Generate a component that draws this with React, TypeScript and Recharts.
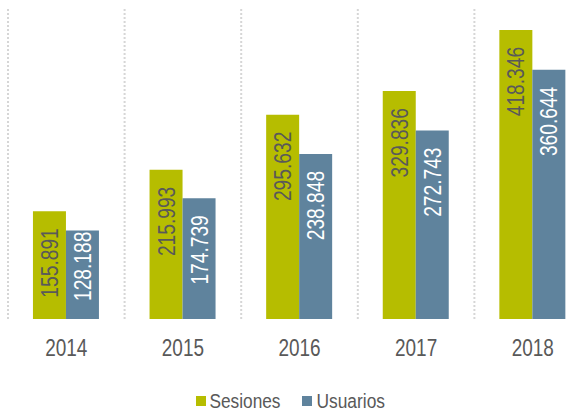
import React from 'react';
import { BarChart, Bar, XAxis, YAxis, Legend, LabelList, ReferenceLine } from 'recharts';

const years = ['2014', '2015', '2016', '2017', '2018'];
const sesiones = [155891, 215993, 295632, 329836, 418346];
const usuarios = [128188, 174739, 238848, 272743, 360644];
const seriesNames = ['Sesiones', 'Usuarios'];

const data = years.map((y, i) => ({ year: y, Sesiones: sesiones[i], Usuarios: usuarios[i] }));

const FONT = "'Liberation Sans', Arial, sans-serif";
const GREEN = '#b6bd00';
const BLUE = '#5f839d';
const GRAY = '#595959';
const LABEL_SIZE = 24;
const LABEL_SCALE = 0.8;

const fmt = (v: number) => String(v).replace(/\B(?=(\d{3})+(?!\d))/g, '.');

const makeLabel = (color: string) => (props: any) => {
  const { x, y, width, height, value } = props;
  const text = fmt(Number(value));
  // approximate advance of the label along the bar
  const len = text.length * 0.52 * LABEL_SIZE * LABEL_SCALE;
  const offset = Math.max(1, Math.min(17, Number(height) - len - 17.5));
  const cx = Number(x) + Number(width) / 2;
  const cy = Number(y) + offset;
  return (
    <g transform={`translate(${cx},${cy}) rotate(-90) scale(${LABEL_SCALE},1)`}>
      <text x={0} y={0} textAnchor="end" dy="0.36em" fill={color} fontSize={LABEL_SIZE} fontFamily={FONT}>
        {text}
      </text>
    </g>
  );
};

const XTick = (props: any) => {
  const { x, y, payload } = props;
  return (
    <g transform={`translate(${x},${y}) scale(0.79,1)`}>
      <text x={0} y={0} dy="0.71em" textAnchor="middle" fill={GRAY} fontSize={24} fontFamily={FONT}>
        {payload.value}
      </text>
    </g>
  );
};

const LegendContent = () => (
  <svg width={587} height={43} style={{ display: 'block' }}>
    <rect x={196} y={27} width={10} height={10} fill={GREEN} />
    <text x={209.5} y={39} fontSize={20} fontFamily={FONT} fill={GRAY} textLength={71} lengthAdjust="spacingAndGlyphs">
      {seriesNames[0]}
    </text>
    <rect x={302} y={27} width={10} height={10} fill={BLUE} />
    <text x={316.5} y={39} fontSize={20} fontFamily={FONT} fill={GRAY} textLength={68.5} lengthAdjust="spacingAndGlyphs">
      {seriesNames[1]}
    </text>
  </svg>
);

export default function App() {
  return (
    <div style={{ position: 'absolute', left: 0, top: 0, width: 587, height: 412, overflow: 'hidden', background: '#fff' }}>
      <BarChart
        width={591}
        height={412}
        data={data}
        margin={{ top: 8, right: 0, left: 8, bottom: 0 }}
        barCategoryGap="21.4%"
        barGap={0}
      >
        <XAxis
          dataKey="year"
          axisLine={false}
          tickLine={false}
          tickMargin={14}
          height={50}
          tick={<XTick />}
        />
        <YAxis hide domain={[0, 450000]} />
        {years.map((y) => (
          <ReferenceLine key={y} x={y} position="start" stroke="#d6d6d6" strokeWidth={2} strokeDasharray="2 2" />
        ))}
        <Legend
          verticalAlign="bottom"
          content={LegendContent}
          wrapperStyle={{ left: 0, width: 587, height: 43 }}
        />
        <Bar dataKey="Sesiones" fill={GREEN} isAnimationActive={false}>
          <LabelList dataKey="Sesiones" content={makeLabel(GRAY)} />
        </Bar>
        <Bar dataKey="Usuarios" fill={BLUE} isAnimationActive={false}>
          <LabelList dataKey="Usuarios" content={makeLabel('#ffffff')} />
        </Bar>
      </BarChart>
    </div>
  );
}
